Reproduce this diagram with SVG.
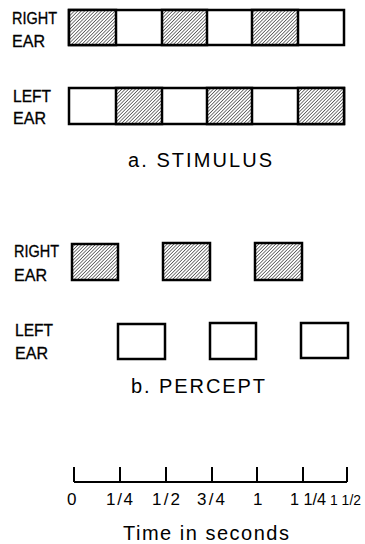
<svg xmlns="http://www.w3.org/2000/svg" width="365" height="544" viewBox="0 0 365 544">
<defs>
<pattern id="hatch" patternUnits="userSpaceOnUse" width="2.4" height="2.4" patternTransform="rotate(45)">
<rect width="2.4" height="2.4" fill="#fff"/>
<line x1="0" y1="0" x2="0" y2="2.4" stroke="#333" stroke-width="1.3"/>
</pattern>
</defs>
<style>
.lbl{font-family:"Liberation Sans",Arial,sans-serif;font-size:16px;fill:#000;stroke:#000;stroke-width:0.3}
.ttl{font-family:"Liberation Sans",Arial,sans-serif;font-size:20px;fill:#000}
.ax{font-family:"Liberation Sans",Arial,sans-serif;font-size:17px;fill:#000}
.box{fill:#fff;stroke:#000;stroke-width:2.5}
.hb{fill:url(#hatch);stroke:#000;stroke-width:2.5}
</style>
<rect width="365" height="544" fill="#fff"/>

<g id="stimulus-right">
<text class="lbl" x="12" y="24" textLength="45" lengthAdjust="spacingAndGlyphs">RIGHT</text>
<text class="lbl" x="12" y="47" textLength="33" lengthAdjust="spacingAndGlyphs">EAR</text>
<rect class="box" x="69" y="10" width="275" height="35"/>
<rect class="hb" x="69" y="10" width="47" height="35"/>
<rect class="hb" x="162" y="10" width="45" height="35"/>
<rect class="hb" x="252" y="10" width="46" height="35"/>
</g>

<g id="stimulus-left">
<text class="lbl" x="13" y="102" textLength="38" lengthAdjust="spacingAndGlyphs">LEFT</text>
<text class="lbl" x="13" y="124" textLength="33" lengthAdjust="spacingAndGlyphs">EAR</text>
<rect class="box" x="69" y="88" width="275" height="36"/>
<rect class="hb" x="116" y="88" width="46" height="36"/>
<rect class="hb" x="207" y="88" width="45" height="36"/>
<rect class="hb" x="298" y="88" width="46" height="36"/>
</g>

<text id="title-a" class="ttl" x="128" y="167" textLength="144">a. STIMULUS</text>

<g id="percept-right">
<text class="lbl" x="14" y="257" textLength="45" lengthAdjust="spacingAndGlyphs">RIGHT</text>
<text class="lbl" x="14" y="281" textLength="33" lengthAdjust="spacingAndGlyphs">EAR</text>
<rect class="hb" x="72" y="244" width="46" height="36"/>
<rect class="hb" x="163" y="243" width="47" height="37"/>
<rect class="hb" x="255" y="243" width="47" height="37"/>
</g>

<g id="percept-left">
<text class="lbl" x="15" y="336" textLength="38" lengthAdjust="spacingAndGlyphs">LEFT</text>
<text class="lbl" x="15" y="359" textLength="33" lengthAdjust="spacingAndGlyphs">EAR</text>
<rect class="box" x="118" y="324" width="47" height="35"/>
<rect class="box" x="210" y="323" width="46" height="36"/>
<rect class="box" x="301" y="323" width="47" height="35"/>
</g>

<text id="title-b" class="ttl" x="131" y="393" textLength="134">b. PERCEPT</text>

<g id="axis" stroke="#000" stroke-width="2" fill="none">
<line x1="74" y1="482" x2="347" y2="482"/>
<line x1="74" y1="467" x2="74" y2="482"/>
<line x1="120" y1="467" x2="120" y2="482"/>
<line x1="166" y1="467" x2="166" y2="482"/>
<line x1="212" y1="467" x2="212" y2="482"/>
<line x1="257" y1="467" x2="257" y2="482"/>
<line x1="303" y1="467" x2="303" y2="482"/>
<line x1="347" y1="467" x2="347" y2="482"/>
</g>
<g id="axis-labels">
<text class="ax" x="67" y="505" textLength="14">0</text>
<text class="ax" x="106" y="505" textLength="27">1/4</text>
<text class="ax" x="152" y="505" textLength="28">1/2</text>
<text class="ax" x="197" y="505" textLength="28">3/4</text>
<text class="ax" x="253" y="505">1</text>
<text class="ax" x="290" y="505" textLength="36" lengthAdjust="spacingAndGlyphs" style="font-size:16px">1 1/4</text>
<text class="ax" x="330" y="505" textLength="31" lengthAdjust="spacingAndGlyphs" style="font-size:14.5px">1 1/2</text>
</g>
<text id="axis-title" class="ttl" x="123" y="540" textLength="166">Time in seconds</text>
</svg>
